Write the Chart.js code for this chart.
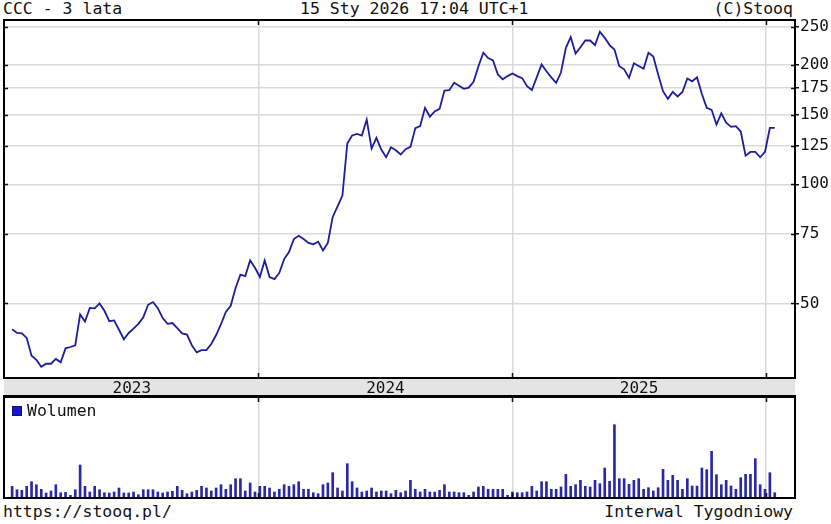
<!DOCTYPE html>
<html lang="pl">
<head>
<meta charset="UTF-8">
<title>CCC - 3 lata</title>
<script src="https://cdn.jsdelivr.net/npm/chart.js"></script>
<style>
  body { margin: 0; background: #fff; }
  #wrap { position: relative; width: 831px; height: 524px; font-family: 'DejaVu Sans Mono', monospace; color: #111; }
  .txt { position: absolute; font-size: 16.5px; line-height: 18px; white-space: pre; }
  canvas { position: absolute; left: 0; }
  #legend { position: absolute; left: 12px; top: 402px; font-size: 16.5px; line-height: 18px; }
  #legend i { display: inline-block; width: 8px; height: 8px; background: #1616d4; border: 1px solid #10107a; margin-right: 5px; vertical-align: 0px; }
</style>
</head>
<body>
<div id="wrap">
  <div class="txt" style="left:3px; top:0">CCC - 3 lata</div>
  <div class="txt" style="left:300px; top:0">15 Sty 2026 17:04 UTC+1</div>
  <div class="txt" style="right:38px; top:0">(C)Stooq</div>

  <canvas id="price" width="831" height="397" style="top:0"></canvas>
  <canvas id="volume" width="831" height="104" style="top:396px"></canvas>
  <div id="legend"><i></i>Wolumen</div>

  <div class="txt" style="left:3px; top:503px">https://stooq.pl/</div>
  <div class="txt" style="right:38px; top:503px">Interwal Tygodniowy</div>
</div>

<script>
// x values are days counted from 2023-01-01, one point per week
const firstDay = 10;
const xMin = -1.7, xMax = 1138.2;
const yearStarts = [365, 731, 1096];          // 2024-01-01, 2025-01-01, 2026-01-01
const yearMids = [182.5, 548, 913.5];
const yearLabels = ['2023', '2024', '2025'];
const priceTicks = [50, 75, 100, 125, 150, 175, 200, 250];

// weekly closes (PLN)
const closes = [
  43.0, 42.1, 42.0, 40.9, 36.9, 36.0, 34.6, 35.2, 35.2, 36.2,
  35.5, 38.5, 38.8, 39.2, 46.9, 45.0, 48.7, 48.6, 50.0, 47.9,
  45.1, 45.3, 42.9, 40.6, 42.1, 43.2, 44.4, 46.1, 49.6, 50.4,
  48.6, 45.9, 44.4, 44.6, 43.3, 42.0, 41.7, 39.2, 37.6, 38.1,
  38.1, 39.5, 41.6, 44.3, 47.6, 49.3, 54.7, 59.1, 58.6, 64.2,
  61.5, 58.3, 64.2, 58.3, 57.6, 59.7, 64.7, 67.4, 72.7, 74.1,
  72.7, 71.1, 70.5, 71.6, 68.0, 71.1, 82.7, 87.9, 93.6, 126.7,
  132.8, 134.0, 132.8, 145.7, 123.1, 131.0, 122.4, 117.0, 124.0, 121.9,
  118.9, 122.6, 124.3, 138.5, 140.2, 156.0, 148.2, 152.7, 155.0, 172.5,
  172.8, 180.4, 177.3, 174.2, 175.4, 181.6, 198.7, 214.9, 208.4, 205.5,
  189.4, 184.1, 187.6, 190.5, 187.6, 185.4, 176.9, 173.0, 186.2, 200.7,
  192.9, 186.2, 180.4, 191.8, 221.2, 235.3, 214.0, 221.9, 230.8, 230.8,
  224.7, 242.8, 234.4, 224.7, 219.0, 198.7, 195.1, 185.7, 202.2, 199.0,
  195.8, 214.9, 210.2, 189.4, 171.8, 164.4, 171.1, 166.7, 171.1, 185.0,
  182.0, 186.2, 169.0, 156.0, 154.2, 141.5, 151.1, 143.0, 139.6, 140.2,
  135.9, 118.1, 120.7, 120.7, 117.0, 120.8, 138.8, 138.8
];

// weekly volume (relative units)
const volumes = [
  11.7, 8.3, 7.7, 11.7, 16.3, 13.3, 8.7, 5.0, 7.0, 13.3,
  5.3, 5.7, 2.7, 8.3, 33.0, 11.7, 6.0, 11.7, 8.3, 5.3,
  5.0, 6.0, 10.0, 5.0, 5.0, 6.0, 3.3, 8.3, 8.3, 8.3,
  6.0, 5.0, 6.0, 6.7, 11.7, 7.7, 4.3, 6.0, 7.7, 11.7,
  10.0, 7.0, 10.0, 13.3, 8.7, 13.3, 19.3, 19.3, 7.0, 15.0,
  6.0, 11.7, 11.7, 10.0, 6.0, 8.7, 13.3, 11.7, 13.3, 16.3,
  8.7, 8.7, 5.3, 4.3, 13.3, 15.0, 25.3, 10.0, 7.0, 34.3,
  16.3, 10.0, 6.0, 7.0, 10.0, 6.0, 7.0, 7.0, 4.3, 7.7,
  5.3, 7.0, 17.7, 8.7, 6.0, 8.7, 6.0, 6.0, 7.7, 13.3,
  6.0, 6.0, 5.3, 5.3, 2.7, 6.0, 11.0, 11.7, 8.7, 8.7,
  8.7, 8.7, 2.7, 6.0, 5.3, 5.3, 6.0, 11.7, 7.0, 16.3,
  16.3, 8.7, 8.7, 11.0, 23.7, 11.7, 13.3, 17.7, 11.7, 11.0,
  17.7, 14.3, 30.0, 16.7, 73.3, 19.3, 19.3, 13.7, 17.7, 19.3,
  8.7, 10.3, 7.0, 10.3, 28.7, 17.7, 22.7, 17.7, 8.7, 19.3,
  12.0, 12.0, 30.0, 28.3, 46.7, 23.3, 13.3, 17.7, 12.0, 8.7,
  20.3, 23.7, 23.7, 39.3, 13.3, 8.7, 25.3, 5.3
];
const volumeMax = 101;

const weekDays = closes.map((_, i) => firstDay + 7 * i);
const monoFont = { family: 'DejaVu Sans Mono', size: 16 };
const gridColor = '#dadada';

// frame, inner tick marks and the grey year band
const framePlugin = {
  id: 'frame',
  beforeDraw(chart, args, opts) {
    if (!opts.band) return;
    const { ctx, chartArea: a } = chart;
    ctx.save();
    ctx.fillStyle = '#e4e4e4';
    ctx.fillRect(a.left, a.bottom, a.right - a.left, chart.height - a.bottom);
    ctx.restore();
  },
  afterDraw(chart, args, opts) {
    const { ctx, chartArea: a } = chart;
    const xs = chart.scales.x;
    ctx.save();
    ctx.strokeStyle = '#111';
    ctx.lineWidth = 1.5;
    ctx.beginPath();
    yearStarts.forEach(d => {
      const px = Math.round(xs.getPixelForValue(d)) + 0.5;
      ctx.moveTo(px, a.top); ctx.lineTo(px, a.top + 5);
      ctx.moveTo(px, a.bottom - 5); ctx.lineTo(px, a.bottom);
    });
    if (opts.yTicks) {
      const ys = chart.scales.y;
      priceTicks.forEach(v => {
        const py = Math.round(ys.getPixelForValue(v)) + 0.5;
        ctx.moveTo(a.left, py); ctx.lineTo(a.left + 4, py);
        ctx.moveTo(a.right - 4, py); ctx.lineTo(a.right, py);
      });
    }
    ctx.stroke();
    ctx.strokeStyle = '#000';
    ctx.lineWidth = 2;
    ctx.strokeRect(a.left, a.top, a.right - a.left, a.bottom - a.top);
    if (opts.band) {
      ctx.beginPath();
      ctx.moveTo(a.left - 1, chart.height - 1);
      ctx.lineTo(a.right + 1, chart.height - 1);
      ctx.stroke();
    }
    ctx.restore();
  }
};

new Chart(document.getElementById('price'), {
  type: 'line',
  data: {
    datasets: [{
      data: closes.map((c, i) => ({ x: weekDays[i], y: c })),
      borderColor: '#1e1e9c',
      borderWidth: 1.8,
      pointRadius: 0,
      tension: 0,
      fill: false
    }]
  },
  options: {
    responsive: false,
    animation: false,
    layout: { padding: { left: 4, top: 20, right: 0, bottom: 0 } },
    plugins: {
      legend: { display: false },
      tooltip: { enabled: false },
      frame: { band: true, yTicks: true }
    },
    scales: {
      x: {
        type: 'linear', min: xMin, max: xMax, position: 'bottom',
        afterBuildTicks: s => { s.ticks = yearStarts.map(v => ({ value: v })); },
        ticks: { display: false },
        grid: { color: gridColor, lineWidth: 1.5, drawTicks: false },
        border: { display: false },
        afterFit: s => { s.height = 0; }
      },
      xl: {
        type: 'linear', min: xMin, max: xMax, position: 'bottom',
        afterBuildTicks: s => { s.ticks = yearMids.map(v => ({ value: v })); },
        ticks: {
          callback: (v, i) => yearLabels[i],
          font: monoFont, color: '#111', padding: 1,
          maxRotation: 0, autoSkip: false
        },
        grid: { display: false, drawTicks: false },
        border: { display: false },
        afterFit: s => { s.height = 19; }
      },
      y: {
        type: 'logarithmic', position: 'right', min: 32.4, max: 260,
        afterBuildTicks: s => { s.ticks = priceTicks.map(v => ({ value: v })); },
        ticks: { callback: v => String(v), font: monoFont, color: '#111', padding: 1 },
        grid: { color: gridColor, lineWidth: 1.5, tickLength: 4, tickColor: '#111' },
        border: { display: false },
        afterFit: s => { s.width = 36; }
      }
    }
  },
  plugins: [framePlugin]
});

new Chart(document.getElementById('volume'), {
  type: 'bar',
  data: {
    datasets: [{
      data: volumes.map((v, i) => ({ x: weekDays[i], y: v })),
      backgroundColor: '#2828a8',
      barThickness: 2
    }]
  },
  options: {
    responsive: false,
    animation: false,
    layout: { padding: { left: 4, top: 1, right: 36, bottom: 2 } },
    plugins: {
      legend: { display: false },
      tooltip: { enabled: false },
      frame: { band: false, yTicks: false }
    },
    scales: {
      x: {
        type: 'linear', min: xMin, max: xMax, offset: false,
        afterBuildTicks: s => { s.ticks = yearStarts.map(v => ({ value: v })); },
        ticks: { display: false },
        grid: { color: gridColor, lineWidth: 1.5, drawTicks: false, offset: false },
        border: { display: false },
        afterFit: s => { s.height = 0; }
      },
      y: { display: false, min: 0, max: volumeMax }
    }
  },
  plugins: [framePlugin]
});
</script>
</body>
</html>
